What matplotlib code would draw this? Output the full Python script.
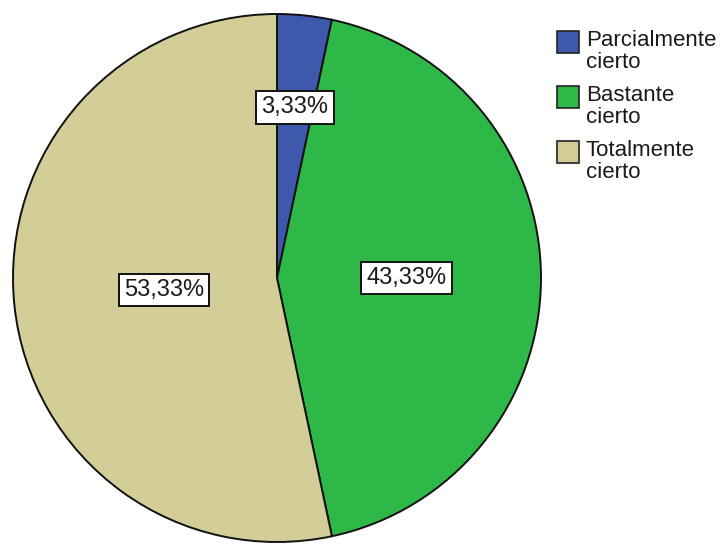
import numpy as np
import matplotlib.pyplot as plt
from matplotlib.patches import Rectangle

# respuestas por categoría (n = 30)
categorias = ['Parcialmente\ncierto', 'Bastante\ncierto', 'Totalmente\ncierto']
frecuencias = [1, 13, 16]
colores = ['#3E58AC', '#2EB848', '#D3CE97']

W, H = 727, 544
cx, cy, r = 277, 278, 264   # pie centre and radius, in pixels

fig = plt.figure(figsize=(W / 100, H / 100), dpi=100)
ax = fig.add_axes([0, 0, 1, 1])
ax.pie(frecuencias, colors=colores, startangle=90, counterclock=False,
       wedgeprops=dict(edgecolor='#111111', linewidth=1.4))
ax.set_aspect('auto')
ax.set_xlim(-cx / r, (W - cx) / r)
ax.set_ylim(-(H - cy) / r, cy / r)
ax.axis('off')

# percentage labels in white boxes, placed along each slice's mid angle
total = sum(frecuencias)
dist = [0.65, 0.49, 0.43]
inicio = 0
for v, d in zip(frecuencias, dist):
    mid = 90 - 360 * (inicio + v / 2) / total
    inicio += v
    x, y = d * np.cos(np.radians(mid)), d * np.sin(np.radians(mid))
    txt = f'{100 * v / total:.2f}%'.replace('.', ',')
    ax.text(x, y, txt, ha='center', va='center', fontsize=17,
            family='Liberation Sans', color='#1a1a1a',
            bbox=dict(boxstyle='square,pad=0.22', facecolor='white',
                      edgecolor='#111111', linewidth=1.4))

# legend: square swatch beside the first line of each label
for i, (lab, col) in enumerate(zip(categorias, colores)):
    top = 31 + 55 * i
    fig.add_artist(Rectangle((557 / W, 1 - (top + 22) / H), 22 / W, 22 / H,
                             transform=fig.transFigure, facecolor=col,
                             edgecolor='#222222', linewidth=1.2))
    for j, linea in enumerate(lab.split('\n')):
        fig.text(586 / W, 1 - (top + 15 + 22 * j) / H, linea,
                 fontsize=16, family='Liberation Sans', color='#1a1a1a',
                 va='baseline', ha='left')

fig.savefig('out.png', dpi=100, facecolor='white')
